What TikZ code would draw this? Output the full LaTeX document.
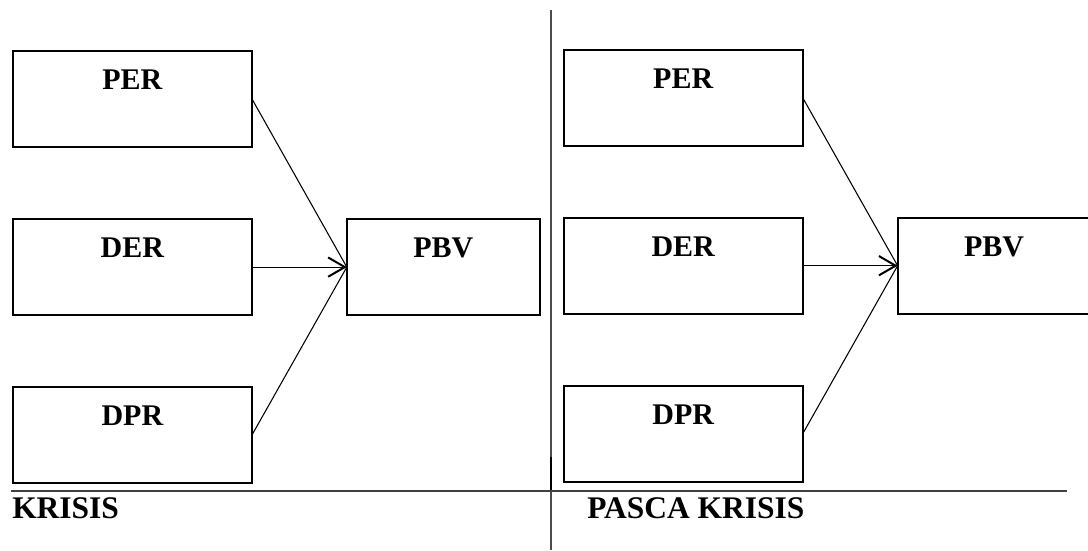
\documentclass[tikz,border=0pt]{standalone}
\usepackage{fontspec}
\setmainfont{Liberation Serif}
\usetikzlibrary{calc,arrows.meta}
\begin{document}
\begin{tikzpicture}[x=0.75pt,y=-0.75pt,
  box/.style={draw=black,line width=1.5pt,rectangle,inner sep=0pt,outer sep=0pt,
    minimum width=239*0.75pt,minimum height=96*0.75pt},
  pbvbox/.style={box,minimum width=193*0.75pt},
  lbl/.style={anchor=base,inner sep=0pt,font=\bfseries\fontsize{22.5pt}{24pt}\selectfont},
  title/.style={anchor=base west,inner sep=0pt,font=\bfseries\fontsize{23.6pt}{26pt}\selectfont},
  conn/.style={draw=black,line width=0.8pt},
  arr/.style={conn,-{Straight Barb[length=12.5pt,width=14.5pt,line width=1.5pt]}},
  sep/.style={draw=black!70,line width=1.1pt},
  hsep/.style={draw=black!75,line width=0.9pt}
]
\clip (0,0) rectangle (1088,550);
\fill[white] (0,0) rectangle (1088,550);

% separators
\coordinate (vtop) at (551,10);
\coordinate (vbot) at (551,550);
\coordinate (vthA) at (551,457);
\coordinate (vthB) at (551,491);
\draw[sep] (vtop) -- (vbot);
\draw[draw=black,line width=1.5pt] (vthA) -- (vthB);
\coordinate (hl) at (11,491);
\coordinate (hr) at (1067,491);
\draw[hsep] (hl) -- (hr);

% left panel
\node[box] (perL) at (132.4,98.8) {};
\node[box] (derL) at (132.4,267.1) {};
\node[box] (dprL) at (132.4,435.1) {};
\node[pbvbox] (pbvL) at (443.3,267.1) {};
\node[lbl] (perLt) at ($(perL.north)+(0,38.7)$) {PER};
\node[lbl] (derLt) at ($(derL.north)+(0,38.7)$) {DER};
\node[lbl] (dprLt) at ($(dprL.north)+(0,38.7)$) {DPR};
\node[lbl] (pbvLt) at ($(pbvL.north)+(0,38.7)$) {PBV};
\draw[conn] (perL.east) -- (pbvL.west);
\draw[conn] (dprL.east) -- (pbvL.west);
\draw[arr] (derL.east) -- (pbvL.west);

% right panel
\node[box] (perR) at (683.2,97.7) {};
\node[box] (derR) at (683.2,265.7) {};
\node[box] (dprR) at (683.2,433.8) {};
\node[pbvbox] (pbvR) at (994.1,265.7) {};
\node[lbl] (perRt) at ($(perR.north)+(0,38.7)$) {PER};
\node[lbl] (derRt) at ($(derR.north)+(0,38.7)$) {DER};
\node[lbl] (dprRt) at ($(dprR.north)+(0,38.7)$) {DPR};
\node[lbl] (pbvRt) at ($(pbvR.north)+(0,38.7)$) {PBV};
\draw[conn] (perR.east) -- (pbvR.west);
\draw[conn] (dprR.east) -- (pbvR.west);
\draw[arr] (derR.east) -- (pbvR.west);

% titles
\node[title] (krisis) at (12,518.8) {KRISIS};
\node[title] (pasca) at (587,518.8) {PASCA KRISIS};
\end{tikzpicture}
\end{document}
